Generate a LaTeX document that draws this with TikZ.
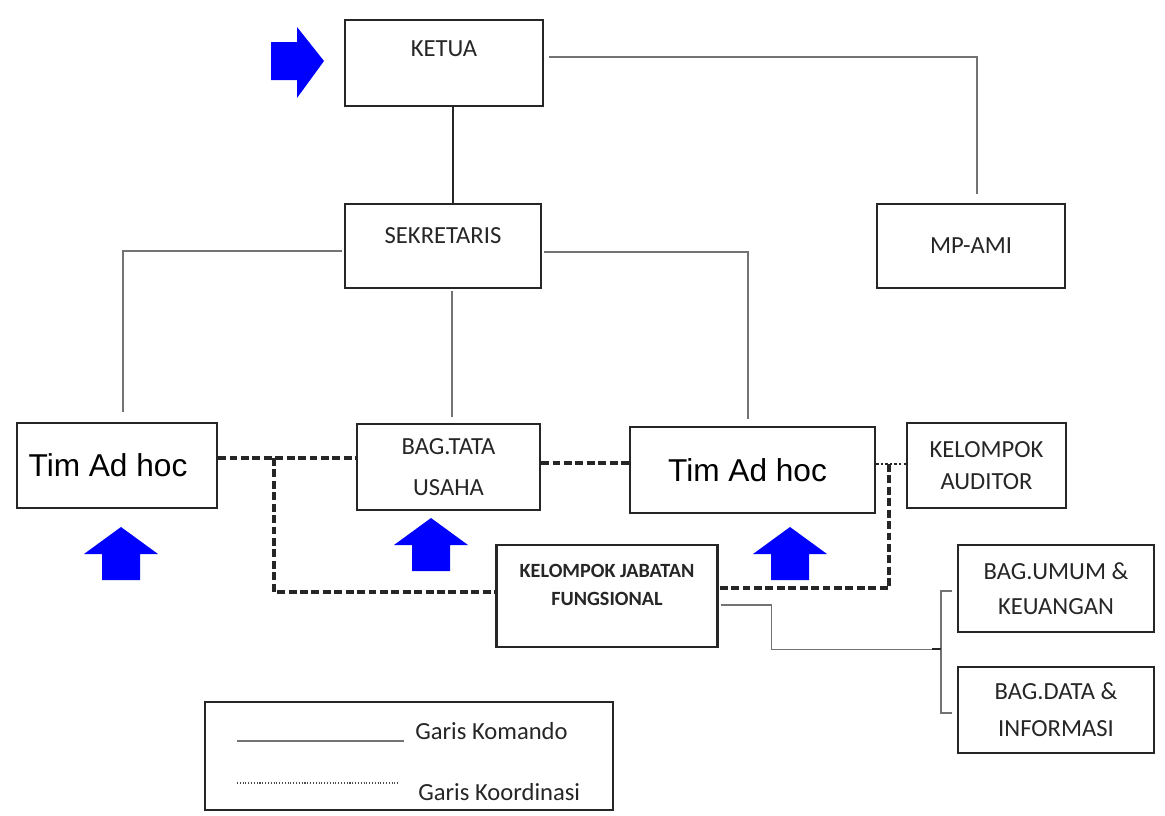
\documentclass[tikz,border=0pt]{standalone}
\usepackage{fontspec}
\setmainfont{Carlito}
\newfontfamily\arialfont{Liberation Sans}
\usetikzlibrary{calc,positioning}

\begin{document}
\begin{tikzpicture}
  [
    x=0.02cm, y=-0.02cm,
    Dim/.style 2 args={minimum width=#1*0.02cm, minimum height=#2*0.02cm},
    Txt/.style={text=black!85, font=\fontsize{14}{20}\selectfont, align=center, inner sep=0pt},
    Box/.style={draw=black!85, line width=1.3pt, fill=white, inner sep=0pt, Txt},
    Tim/.style={Box, text=black, font=\arialfont\fontsize{18}{20}\selectfont},
    Komando/.style={draw=black!55, line width=0.8pt},
    Pokok/.style={draw=black!85, line width=1.3pt},
    Koordinasi/.style={draw=black!85, line width=2pt, dash pattern=on 4.5pt off 2pt},
    Titik/.style={draw=black!85, line width=1.6pt, dash pattern=on 1.4pt off 1.2pt},
    Pointer/.style={fill=blue, draw=none}
  ]
  \useasboundingbox (0,0) rectangle (1165,815);
  % Nodes
  \node[Box, Dim={198}{86}, label={[Txt, anchor=center, yshift=-0.6cm]north:KETUA}] (ketua) at (444,63) {};
  \node[Box, Dim={196}{84}, label={[Txt, anchor=center, yshift=-0.66cm]north:SEKRETARIS}] (sekretaris) at (443,246) {};
  \node[Box, Dim={188}{84}] (mpami) at (971,246) {MP-AMI};
  \node[Tim, Dim={200}{85}] (tim1) at (117,465.5) {Tim Ad hoc\hspace{0.36cm}};
  \node[Box, Dim={183}{86}] (bagtata) at (448.5,467) {BAG.TATA\\[3pt]USAHA};
  \node[Tim, Dim={245}{86}] (tim2) at (752.5,470) {Tim Ad hoc\hspace{0.2cm}};
  \node[Box, Dim={159}{85}] (auditor) at (986.5,465.5) {KELOMPOK\\[-2pt]AUDITOR};
  \node[Box, Dim={221}{102}, label={[Txt, anchor=center, yshift=-0.82cm, font=\bfseries\fontsize{11.5}{16.4}\selectfont]north:KELOMPOK JABATAN\\FUNGSIONAL}] (kjf) at (607,596) {};
  \node[Box, Dim={196}{87}] (umum) at (1056,588.5) {BAG.UMUM \&\\KEUANGAN};
  \node[Box, Dim={196}{86}] (data) at (1056,710) {BAG.DATA \&\\[1pt]INFORMASI};
  % Legend
  \node[Box, Dim={408}{108}] (legend) at (409,756) {};
  \node[Txt, anchor=base west, font=\fontsize{14}{16}\selectfont] (komando) at (415,739) {Garis Komando};
  \node[Txt, anchor=base west, font=\fontsize{14}{16}\selectfont] (koordinasi) at (418,800) {Garis Koordinasi};
  \draw[Komando] (237,741) -- (404,741);
  \draw[draw=black!70, line width=0.6pt, densely dotted] (237,783) -- (399,783);
  % Lines
  \coordinate (atas) at ($(ketua.south)+(9,0)$);
  \coordinate (tengah) at ($(sekretaris.south)+(9,2)$);
  \path[Pokok] (atas) -- (atas |- sekretaris.north);
  \path[Komando] ($(ketua.east)+(5,-6)$) -| ($(mpami.north)+(6,-9)$);
  \path[Komando] ($(sekretaris.west)+(-2,5)$) -| ($(tim1.north)+(6,-10)$);
  \path[Komando] (tengah) -- ($(tengah |- bagtata.north)+(0,-6)$);
  \path[Komando] ($(sekretaris.east)+(2,6)$) -| ($(tim2.north)+(-4.5,-7)$);
  \coordinate (cabang) at ($(tim1.east)+(56,-7.5)$);
  \coordinate (simpul) at ($(tim2.east)+(13,-6)$);
  \coordinate (kurung) at ($(umum.west)!0.5!(data.west)+(-16,0)$);
  \path[Koordinasi] ($(tim1.east)+(0,-7.5)$) -- ($(bagtata.west)+(0,-9)$);
  \path[Koordinasi] (cabang) |- ($(kjf.west)+(0,-4)$);
  \path[Koordinasi] ($(bagtata.east)+(0,-4)$) -- ($(tim2.west)+(0,-7)$);
  \path[Titik] ($(tim2.east)+(0,-6)$) -- ($(auditor.west)+(0,-1.5)$);
  \path[Koordinasi] (simpul) |- ($(kjf.east)+(0,-8)$);
  \path[Komando] ($(kjf.east)+(2,9)$) -- ++(51,0) |- (kurung);
  \path[Komando] ($(umum.west)+(-5,2.5)$) -| (kurung) |- ($(data.west)+(-5,3)$);
  \path[Pokok] ($(kurung)+(-9,0)$) -- (kurung);
  % Pointers
  \fill[Pointer] (271,42) -- (297,42) -- (297,27) -- (324,61) -- (297,98) -- (297,80) -- (271,80) -- cycle;
  \foreach \x/\y in {121/527, 431/518, 790/527}
    \fill[Pointer] (\x,\y) -- ++(37,27) -- ++(-18,0) -- ++(0,26) -- ++(-38,0) -- ++(0,-26) -- ++(-18,0) -- cycle;
\end{tikzpicture}
\end{document}
